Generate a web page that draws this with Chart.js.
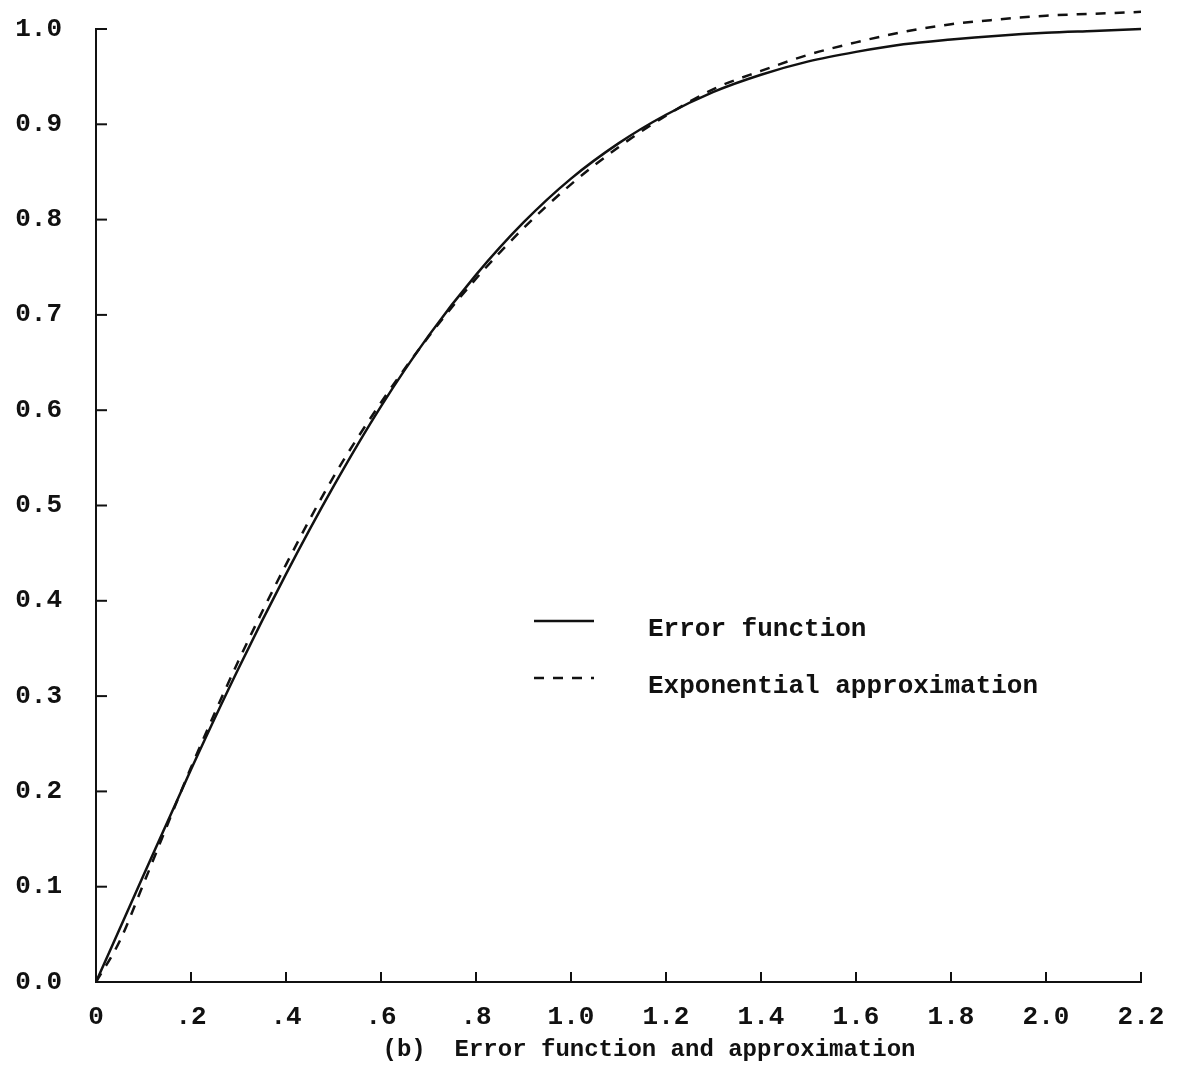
<!DOCTYPE html>
<html>
<head>
<meta charset="utf-8">
<script src="https://cdn.jsdelivr.net/npm/chart.js@4.4.0/dist/chart.umd.min.js"></script>
<style>
    html, body { margin: 0; padding: 0; background: #fff; }
    #wrap { width: 1182px; height: 1081px; position: relative; }
</style>
</head>
<body>
<div id="wrap"><canvas id="chart"></canvas></div>
<script>
const erfX = [0, 0.1, 0.2, 0.3, 0.4, 0.5, 0.6, 0.7, 0.8, 0.9, 1.0, 1.1, 1.2, 1.3, 1.4, 1.5, 1.6, 1.7, 1.8, 1.9, 2.0, 2.1, 2.2];
const erfValues = [0, 0.112, 0.223, 0.329, 0.428, 0.520, 0.604, 0.678, 0.742, 0.797, 0.843, 0.880, 0.910, 0.934, 0.952, 0.966, 0.976, 0.984, 0.989, 0.993, 0.996, 0.998, 1.0];

const approxX = [0, 0.05, 0.1, 0.2, 0.3, 0.4, 0.5, 0.6, 0.7, 0.8, 0.9, 1.0, 1.1, 1.2, 1.3, 1.4, 1.5, 1.6, 1.7, 1.8, 1.9, 2.0, 2.1, 2.2];
const approxValues = [0, 0.043, 0.103, 0.225, 0.337, 0.438, 0.530, 0.608, 0.677, 0.738, 0.791, 0.837, 0.876, 0.909, 0.937, 0.956, 0.973, 0.986, 0.997, 1.005, 1.010, 1.014, 1.016, 1.018];

const xTickValues = [0, 0.2, 0.4, 0.6, 0.8, 1.0, 1.2, 1.4, 1.6, 1.8, 2.0, 2.2];
const xTickLabels = ['0', '.2', '.4', '.6', '.8', '1.0', '1.2', '1.4', '1.6', '1.8', '2.0', '2.2'];
const yTickValues = [0, 0.1, 0.2, 0.3, 0.4, 0.5, 0.6, 0.7, 0.8, 0.9, 1.0];
const yTickLabels = ['0.0', '0.1', '0.2', '0.3', '0.4', '0.5', '0.6', '0.7', '0.8', '0.9', '1.0'];

const seriesNames = ['Error function', 'Exponential approximation'];
const caption = '(b)  Error function and approximation';

const ink = '#111';
const typeFont = '"Liberation Mono", "DejaVu Sans Mono", monospace';

// inside tick marks, legend and caption
const decorations = {
    id: 'decorations',
    afterDraw(chart) {
        const ctx = chart.ctx;
        const xs = chart.scales.x;
        const ys = chart.scales.y;
        ctx.save();
        ctx.strokeStyle = ink;
        ctx.lineWidth = 2;
        xTickValues.forEach((v) => {
            if (v === 0) return;
            const px = xs.getPixelForValue(v);
            ctx.beginPath();
            ctx.moveTo(px, ys.bottom);
            ctx.lineTo(px, ys.bottom - 10);
            ctx.stroke();
        });
        yTickValues.forEach((v) => {
            if (v === 0) return;
            const py = ys.getPixelForValue(v);
            ctx.beginPath();
            ctx.moveTo(xs.left, py);
            ctx.lineTo(xs.left + 11, py);
            ctx.stroke();
        });

        // legend
        ctx.font = 'bold 26px ' + typeFont;
        ctx.fillStyle = ink;
        ctx.textBaseline = 'middle';
        ctx.textAlign = 'left';
        const rows = [621, 678];
        chart.data.datasets.forEach((ds, i) => {
            const y = rows[i];
            ctx.save();
            ctx.lineWidth = ds.borderWidth;
            ctx.setLineDash(ds.borderDash || []);
            ctx.beginPath();
            ctx.moveTo(534, y);
            ctx.lineTo(594, y);
            ctx.stroke();
            ctx.restore();
            ctx.fillText(ds.label, 648, y + 8);
        });

        // caption
        ctx.font = 'bold 24px ' + typeFont;
        ctx.textAlign = 'center';
        ctx.fillText(caption, 649, 1050);
        ctx.restore();
    },
};

new Chart(document.getElementById('chart'), {
    type: 'line',
    data: {
        datasets: [
            {
                label: seriesNames[0],
                data: erfX.map((x, i) => ({ x: x, y: erfValues[i] })),
                borderColor: ink,
                borderWidth: 2.5,
                pointRadius: 0,
                cubicInterpolationMode: 'monotone',
                fill: false,
                clip: false,
            },
            {
                label: seriesNames[1],
                data: approxX.map((x, i) => ({ x: x, y: approxValues[i] })),
                borderColor: ink,
                borderWidth: 2.5,
                borderDash: [10, 9],
                pointRadius: 0,
                cubicInterpolationMode: 'monotone',
                fill: false,
                clip: false,
            },
        ],
    },
    options: {
        responsive: true,
        maintainAspectRatio: false,
        animation: false,
        layout: {
            padding: { left: 0, right: 41, top: 29, bottom: 0 },
        },
        plugins: {
            legend: { display: false },
            tooltip: { enabled: false },
        },
        scales: {
            x: {
                type: 'linear',
                min: 0,
                max: 2.2,
                afterBuildTicks: (s) => {
                    s.ticks = xTickValues.map((v) => ({ value: v }));
                },
                afterFit: (s) => {
                    s.height = 99;
                    s.paddingLeft = 0;
                    s.paddingRight = 0;
                },
                ticks: {
                    autoSkip: false,
                    maxRotation: 0,
                    padding: 20,
                    color: ink,
                    font: { family: typeFont, size: 26, weight: 'bold' },
                    callback: (v, i) => xTickLabels[i],
                },
                grid: { display: true, drawOnChartArea: false, drawTicks: false },
                border: { display: true, color: ink, width: 2 },
            },
            y: {
                type: 'linear',
                min: 0,
                max: 1,
                afterBuildTicks: (s) => {
                    s.ticks = yTickValues.map((v) => ({ value: v }));
                },
                afterFit: (s) => {
                    s.width = 96;
                    s.paddingTop = 0;
                    s.paddingBottom = 0;
                },
                ticks: {
                    autoSkip: false,
                    padding: 34,
                    color: ink,
                    font: { family: typeFont, size: 26, weight: 'bold' },
                    callback: (v, i) => yTickLabels[i],
                },
                grid: { display: true, drawOnChartArea: false, drawTicks: false },
                border: { display: true, color: ink, width: 2 },
            },
        },
    },
    plugins: [decorations],
});
</script>
</body>
</html>
